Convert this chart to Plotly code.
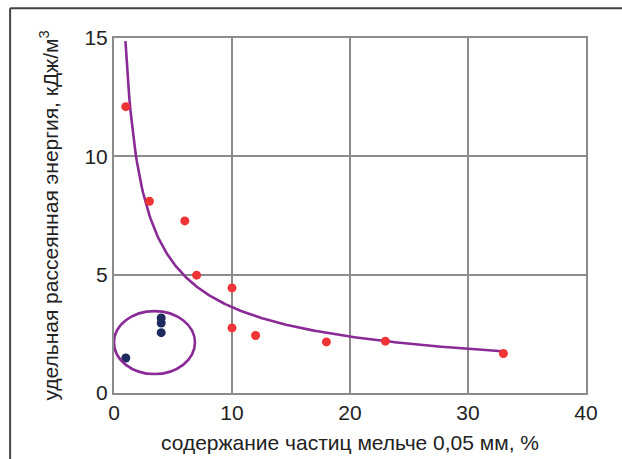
import numpy as np
import plotly.graph_objects as go

# Data
red_x = [1, 3, 6, 7, 10, 10, 12, 18, 23, 33]
red_y = [12.1, 8.1, 7.27, 4.98, 4.44, 2.75, 2.43, 2.16, 2.19, 1.67]
blue_x = [1, 4, 4, 4]
blue_y = [1.48, 3.17, 2.96, 2.55]

# Power trendline y = a * x^b
trend_a = 14.6
trend_b = -0.605
trend_x_range = [0.97, 33]

x_ticks = [0, 10, 20, 30, 40]
y_ticks = [0, 5, 10, 15]
x_title = "содержание частиц мельче 0,05 мм, %"
y_title = "удельная рассеянная энергия, кДж/м<sup>3</sup>"

# ellipse enclosing the blue group (data coordinates)
ell = dict(x0=0.0, x1=6.86, y0=0.8, y1=3.46)

tx = np.linspace(trend_x_range[0], trend_x_range[1], 300)
ty = trend_a * tx ** trend_b

FONT = "Liberation Sans, Arial, sans-serif"
GRID = "#8c8c8c"
TXT = "#222222"

fig = go.Figure()
fig.add_trace(go.Scatter(x=tx, y=ty, mode="lines",
                         line=dict(color="#8a2a96", width=2.6), hoverinfo="skip"))
fig.add_trace(go.Scatter(x=red_x, y=red_y, mode="markers",
                         marker=dict(color="#ee3434", size=9)))
fig.add_trace(go.Scatter(x=blue_x, y=blue_y, mode="markers",
                         marker=dict(color="#1f2b5e", size=9)))

fig.add_shape(type="circle", xref="x", yref="y", **ell,
              line=dict(color="#8a2a96", width=2.6))

# outer frame (left and top lines)
L, R, T, B = 113.5, 36, 38.3, 66.3
W, H = 622 - L - R, 459 - T - B
def px(xp):
    return (xp - L) / W
def py(yp):
    return (459 - B - yp) / H
fig.add_shape(type="line", xref="paper", yref="paper",
              x0=px(9.5), x1=px(9.5), y0=py(8.5), y1=py(470),
              line=dict(color="#444444", width=2))
fig.add_shape(type="line", xref="paper", yref="paper",
              x0=px(9.5), x1=px(640), y0=py(8.5), y1=py(8.5),
              line=dict(color="#444444", width=2))

fig.update_layout(
    width=622, height=459,
    margin=dict(l=L, r=R, t=T, b=B, autoexpand=False),
    paper_bgcolor="white", plot_bgcolor="white",
    showlegend=False,
    font=dict(family=FONT, color=TXT, size=20),
)
fig.update_xaxes(range=[0, 40], tickvals=x_ticks, showgrid=True, gridcolor=GRID,
                 gridwidth=2, showline=True, linecolor=GRID, linewidth=2, mirror=True,
                 zeroline=False, ticks="", tickfont=dict(size=21, family=FONT, color=TXT),
                 title=dict(text=x_title, font=dict(size=21, family=FONT, color=TXT), standoff=12),
                 automargin=False)
fig.update_yaxes(range=[0, 15], tickvals=y_ticks, showgrid=True, gridcolor=GRID,
                 gridwidth=2, showline=True, linecolor=GRID, linewidth=2, mirror=True,
                 zeroline=False, ticks="", tickfont=dict(size=21, family=FONT, color=TXT),
                 title=dict(text=y_title, font=dict(size=21, family=FONT, color=TXT), standoff=20),
                 automargin=False)

fig.write_html("out.html")
